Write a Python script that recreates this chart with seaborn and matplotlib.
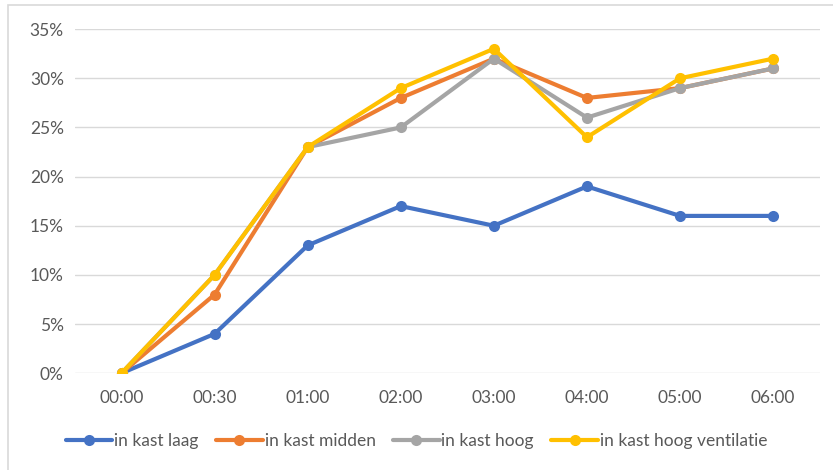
import pandas as pd
import numpy as np
import matplotlib.pyplot as plt
import seaborn as sns
from matplotlib.patches import Rectangle
from matplotlib.ticker import PercentFormatter

# Gegevens uit de grafiek
tijden = ['00:00', '00:30', '01:00', '02:00', '03:00', '04:00', '05:00', '06:00']
kast_laag = [0, 4, 13, 17, 15, 19, 16, 16]
kast_midden = [0, 8, 23, 28, 32, 28, 29, 31]
kast_hoog = [0, 10, 23, 25, 32, 26, 29, 31]
kast_hoog_ventilatie = [0, 10, 23, 29, 33, 24, 30, 32]

reeksen = ['in kast laag', 'in kast midden', 'in kast hoog', 'in kast hoog ventilatie']
kleuren = ['#4472C4', '#ED7D31', '#A5A5A5', '#FFC000']

df = pd.DataFrame({
    'tijd': tijden * 4,
    'waarde': np.array(kast_laag + kast_midden + kast_hoog + kast_hoog_ventilatie) / 100,
    'reeks': np.repeat(reeksen, len(tijden)),
})

sns.set_style('white')
plt.rcParams['font.family'] = ['Lato', 'DejaVu Sans']

fig = plt.figure(figsize=(8.33, 4.7), dpi=100)
ax = fig.add_axes([0.09, 0.206, 0.894, 0.732])

# rand rond de grafiek
fig.patches.append(Rectangle((8 / 833, -0.05), 1.0, 1.05 - 5 / 470, transform=fig.transFigure,
                             fill=False, edgecolor='#D9D9D9', linewidth=1.2))

sns.lineplot(data=df, x='tijd', y='waarde', hue='reeks', hue_order=reeksen,
             palette=kleuren, marker='o', markersize=8, markeredgewidth=0,
             linewidth=3, sort=False, ax=ax, legend=False)

ax.set_xlim(-0.5, len(tijden) - 0.5)
ax.set_ylim(0, 0.35)
ax.set_yticks(np.arange(0, 0.36, 0.05))
ax.yaxis.set_major_formatter(PercentFormatter(1.0, decimals=0))
ax.grid(axis='y', color='#D9D9D9', linewidth=1)
ax.set_axisbelow(True)
for s in ax.spines.values():
    s.set_visible(False)
ax.tick_params(length=0, labelsize=12.5, labelcolor='#595959')
ax.tick_params(axis='x', pad=12)
ax.tick_params(axis='y', pad=8)
ax.set_xlabel('')
ax.set_ylabel('')

# legenda onderaan
handles = [plt.Line2D([], [], color=k, linewidth=3, marker='o', markersize=8, markeredgewidth=0)
           for k in kleuren]
fig.legend(handles, reeksen, loc='center', bbox_to_anchor=(0.5, 1 - 441 / 470), ncol=4,
           frameon=False, fontsize=12.5, labelcolor='#595959', numpoints=1,
           handlelength=2.7, handletextpad=0.1, columnspacing=1.0)

fig.savefig('out.png', dpi=100)
